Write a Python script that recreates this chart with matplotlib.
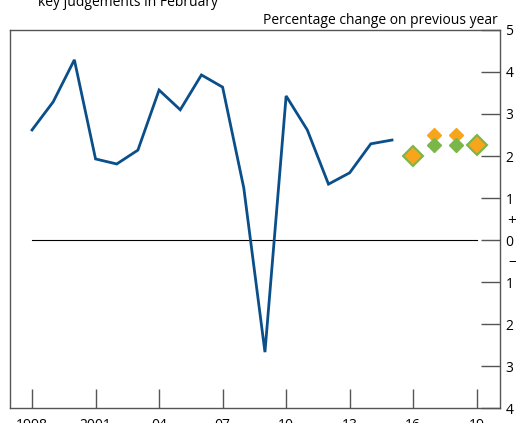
import matplotlib.pyplot as plt
from matplotlib.ticker import FixedLocator

plt.rcParams['font.family'] = ['Open Sans', 'DejaVu Sans']

# GDP growth, percentage change on previous year
years = list(range(1998, 2016))
growth = [2.62, 3.29, 4.29, 1.93, 1.81, 2.14, 3.57, 3.10, 3.93, 3.64,
          1.24, -2.67, 3.43, 2.62, 1.33, 1.60, 2.29, 2.38]

# projections: February (orange) and latest (green)
proj_years = [2016, 2017, 2018, 2019]
feb_proj = [2.0, 2.5, 2.5, 2.25]
new_proj = [2.0, 2.25, 2.25, 2.25]

tick_years = [1998, 2001, 2004, 2007, 2010, 2013, 2016, 2019]
tick_labels = ['1998', '2001', '04', '07', '10', '13', '16', '19']
y_ticks = [-4, -3, -2, -1, 0, 1, 2, 3, 4, 5]

blue = '#0b4f8a'
orange = '#f7a51c'
green = '#7ab648'
spine_col = '#555555'

fig = plt.figure(figsize=(5.17, 4.23), dpi=100)
ax = fig.add_axes([10 / 517, 1 - 408 / 423, 490 / 517, 378 / 423])

ax.plot(years, growth, color=blue, lw=2, solid_joinstyle='miter', zorder=3)
ax.plot([tick_years[0], tick_years[-1]], [0, 0], color='black', lw=0.8, zorder=2)

for yr, f, n in zip(proj_years, feb_proj, new_proj):
    if abs(f - n) < 1e-9:
        # both projections coincide: one large diamond
        ax.plot(yr, f, marker='D', ms=10, mfc=orange, mec=green, mew=1.5, zorder=4)
    else:
        ax.plot(yr, f, marker='D', ms=7, mfc=orange, mec=orange, zorder=4)
        ax.plot(yr, n, marker='D', ms=7, mfc=green, mec=green, zorder=4)

ax.set_xlim(1996.96, 2020.1)
ax.set_ylim(-4, 5)

ax.xaxis.set_major_locator(FixedLocator(tick_years))
ax.set_xticklabels(tick_labels)
ax.yaxis.set_major_locator(FixedLocator(y_ticks))
ax.set_yticklabels([str(abs(v)) for v in y_ticks])
ax.yaxis.tick_right()

ax.tick_params(axis='x', direction='in', length=14, width=1, color=spine_col,
               labelsize=10, pad=7)
ax.tick_params(axis='y', direction='in', length=14, width=1, color=spine_col,
               labelsize=10, pad=4)

for s in ax.spines.values():
    s.set_color(spine_col)
    s.set_linewidth(1)

# sign markers around zero on the right-hand scale
ax.annotate('+', xy=(1, 0.45), xycoords=('axes fraction', 'data'),
            xytext=(8.5, 0), textcoords='offset points', ha='center', va='center',
            fontsize=11)
ax.annotate('\u2013', xy=(1, -0.5), xycoords=('axes fraction', 'data'),
            xytext=(8.5, 0), textcoords='offset points', ha='center', va='center',
            fontsize=11)

fig.text(38 / 517, 1 - 6 / 423, 'key judgements in February', fontsize=10,
         ha='left', va='baseline')
fig.text(498 / 517, 1 - 24 / 423, 'Percentage change on previous year',
         fontsize=10, ha='right', va='baseline')

fig.savefig('out.png', dpi=100)
